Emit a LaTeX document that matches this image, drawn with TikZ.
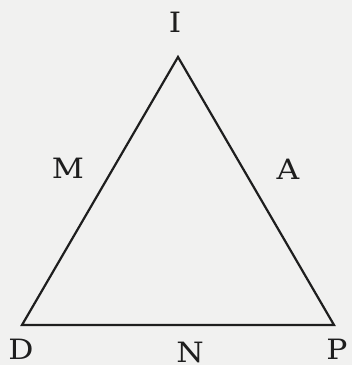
\documentclass[tikz,border=0pt]{standalone}
\usepackage{graphicx}
\usepackage{fontspec}
\newfontfamily\lblfont{DejaVu Serif}
\definecolor{bg}{HTML}{F1F1F0}
\definecolor{ink}{HTML}{1E1E1E}
\tikzset{lbl/.style={text=ink,font=\lblfont\fontsize{28}{28}\selectfont,inner sep=0pt}}
\newcommand{\wideL}[1]{\scalebox{1.12}[1]{#1}}
\begin{document}
\begin{tikzpicture}[x=1pt,y=-1pt]
\useasboundingbox (0,0) rectangle (352,365);
\clip (0,0) rectangle (352,365);
\fill[bg] (0,0) rectangle (352,365);
\coordinate (top) at (178,57);
\coordinate (bl) at (22,325);
\coordinate (br) at (334,325);
\draw[ink,line width=2.2pt,line join=miter] (top) -- (bl) -- (br) -- cycle;
\node[lbl] (I) at (175,22) {\wideL{I}};
\node[lbl] (M) at (68,168) {\wideL{M}};
\node[lbl] (A) at (288,169) {\wideL{A}};
\node[lbl] (D) at (21,349) {\wideL{D}};
\node[lbl] (N) at (190,352) {\wideL{N}};
\node[lbl] (P) at (337,349) {\wideL{P}};
\end{tikzpicture}
\end{document}
